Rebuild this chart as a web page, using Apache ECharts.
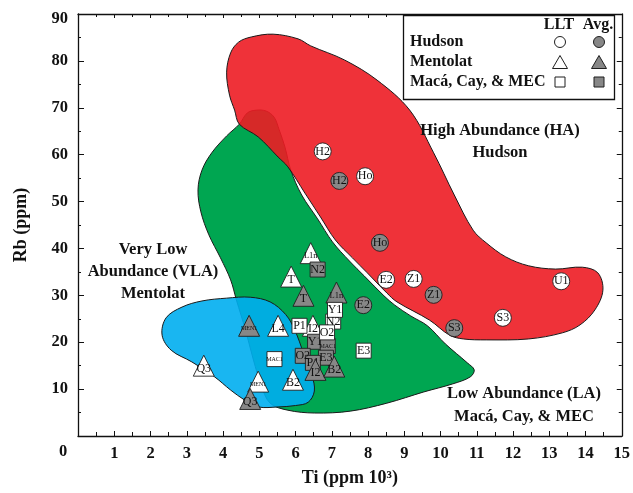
<!DOCTYPE html>
<html>
<head>
<meta charset="utf-8">
<script src="https://cdn.jsdelivr.net/npm/echarts@6.0.0/dist/echarts.min.js"></script>
<style>
  html, body { margin: 0; padding: 0; background: #fff; }
  #chart { width: 633px; height: 493px; }
</style>
</head>
<body>
<div id="chart"></div>
<script>
// Each row: [Ti (ppm x 10^3), Rb (ppm), sample code]
const hudsonLLT = [
  [6.75, 60.7, 'H2'], [7.92, 55.4, 'Ho'], [8.50, 33.3, 'E2'],
  [9.26, 33.5, 'Z1'], [11.72, 25.2, 'S3'], [13.33, 33.0, 'U1']
];
const hudsonAvg = [
  [7.21, 54.4, 'H2'], [8.33, 41.2, 'Ho'], [7.87, 27.9, 'E2'],
  [9.81, 30.1, 'Z1'], [10.38, 23.0, 'S3']
];
const mentolatLLT = [
  [6.42, 39.0, 'L1n'], [5.88, 34.0, 'T'], [6.48, 23.5, 'I2'], [5.52, 23.5, 'L4'],
  [3.47, 15.0, 'Q3'], [4.97, 11.6, 'MEN1'], [5.93, 12.0, 'B2']
];
const mentolatAvg = [
  [6.22, 29.9, 'T'], [7.13, 30.6, 'L1n'], [4.72, 23.5, 'MEN1'],
  [4.75, 7.9, 'Q3'], [6.55, 14.1, 'I2'], [7.07, 14.8, 'B2']
];
const macaLLT = [
  [7.04, 24.4, 'N2'], [7.09, 26.9, 'Y1'], [6.11, 23.5, 'P1'],
  [6.87, 22.1, 'O2'], [7.88, 18.2, 'E3'], [5.42, 16.4, 'MAC1']
];
const macaAvg = [
  [6.61, 35.5, 'N2'], [6.54, 20.1, 'Y1'], [6.89, 19.2, 'MAC1'],
  [6.20, 17.1, 'O2'], [6.84, 16.7, 'E3'], [6.48, 15.6, 'P1']
];

// Field outlines in data units: [Ti, Rb]
const fieldHA = [
  [4.78, 85.1], [5.38, 85.7], [6.07, 84.7], [6.42, 83.2], [7.35, 80.2], [8.25, 75.9],
  [9.15, 69.5], [9.81, 60.4], [10.38, 51.4], [10.90, 43.9], [11.26, 41.2], [11.80, 38.2],
  [12.43, 36.3], [13.17, 35.6], [13.91, 36.0], [14.34, 34.8], [14.48, 31.1], [14.26, 26.9],
  [13.85, 23.7], [13.36, 22.0], [12.43, 20.7], [11.26, 20.5], [10.63, 20.7], [10.25, 21.5],
  [9.70, 24.7], [8.80, 28.6], [8.52, 30.5], [7.98, 34.8], [7.57, 38.0], [7.10, 41.8],
  [6.69, 46.7], [6.26, 51.8], [5.79, 57.4], [5.52, 59.5], [4.97, 63.8], [4.45, 66.5],
  [4.32, 69.5], [4.18, 72.7], [4.10, 77.6], [4.21, 81.7], [4.43, 84.0]
];
const fieldLA = [
  [4.92, 69.5], [4.67, 68.9], [4.45, 66.5], [4.10, 64.0], [3.69, 60.4], [3.42, 56.7],
  [3.31, 52.5], [3.39, 47.8], [3.61, 42.9], [3.93, 38.0], [4.21, 33.3], [4.37, 29.0],
  [4.62, 22.6], [4.84, 16.2], [5.05, 10.9], [5.30, 7.0], [5.79, 5.5], [6.53, 4.9],
  [7.51, 5.3], [8.52, 7.0], [9.54, 9.4], [10.33, 11.1], [10.82, 12.6], [10.93, 14.1],
  [10.74, 15.6], [10.14, 19.6], [9.64, 23.5], [9.18, 25.6], [8.74, 27.9], [8.44, 29.9],
  [7.90, 34.1], [7.49, 37.3], [7.02, 41.4], [6.61, 46.3], [6.17, 51.4], [5.87, 56.7],
  [5.71, 61.6], [5.55, 65.3], [5.41, 68.0], [5.19, 69.3]
];
const fieldVLA = [
  [2.87, 27.5], [3.42, 28.8], [4.10, 29.4], [4.75, 29.6], [5.30, 28.6], [5.73, 25.9],
  [5.98, 22.6], [6.23, 17.5], [6.45, 13.0], [6.52, 9.6], [6.35, 7.2], [6.00, 6.5],
  [5.52, 6.2], [4.97, 6.2], [4.59, 7.7], [4.21, 9.8], [3.77, 12.6], [3.14, 15.8],
  [2.57, 18.3], [2.32, 21.5], [2.43, 25.2]
];

const SERIF = '"Liberation Serif", "Times New Roman", serif';
const GREY = '#878787';
const EDGE = '#1f1f1f';

function fieldSeries(name, outline, fill, z) {
  return {
    name: name,
    type: 'custom',
    coordinateSystem: 'cartesian2d',
    silent: true,
    z: z,
    clip: false,
    data: [outline[0]],
    renderItem: function (params, api) {
      const pts = outline.map(function (p) { return api.coord(p); });
      return {
        type: 'polygon',
        shape: { points: pts, smooth: 0.35 },
        style: { fill: fill, stroke: '#1a1a1a', lineWidth: 1 }
      };
    }
  };
}

// code labels shrink with their length so they fit inside the symbol
function codeSize(code) {
  if (code.length > 3) return 6;
  if (code.length > 2) return 8.5;
  return 12;
}

function pointSeries(name, rows, symbol, size, fill, z, dy) {
  return {
    name: name,
    type: 'scatter',
    symbol: symbol,
    symbolSize: size,
    z: z,
    data: rows.map(function (r) {
      return {
        value: [r[0], r[1]],
        name: r[2],
        label: { fontSize: codeSize(r[2]) }
      };
    }),
    itemStyle: { color: fill, borderColor: EDGE, borderWidth: 0.9, opacity: 1 },
    label: {
      show: true, position: 'inside', formatter: '{b}', color: '#111',
      fontFamily: SERIF, offset: [0, dy]
    },
    emphasis: { disabled: true }
  };
}

const axisText = { fontFamily: SERIF, fontWeight: 'bold', fontSize: 16.5, color: '#111' };
const frameLine = { show: true, onZero: false, lineStyle: { color: '#111', width: 1.3 } };

const legendFont = 'bold 16px ' + SERIF;
const annoFont = 'bold 16.5px ' + SERIF;

function txt(x, y, s, font, align) {
  return { type: 'text', x: x, y: y, z: 50,
    style: { text: s, font: font, fill: '#111', align: align || 'center', verticalAlign: 'middle' } };
}

const chart = echarts.init(document.getElementById('chart'), null, { renderer: 'canvas' });
chart.setOption({
  animation: false,
  backgroundColor: '#fff',
  grid: { left: 78, right: 6, top: 14, bottom: 57 },
  xAxis: [{
    type: 'value', min: 0, max: 15, interval: 1,
    axisLine: frameLine,
    axisTick: { inside: true, length: 5, lineStyle: { color: '#111' } },
    minorTick: { show: true, splitNumber: 2, length: 4, lineStyle: { color: '#111' } },
    splitLine: { show: false },
    axisLabel: Object.assign({ showMinLabel: false, margin: 9 }, axisText),
    name: 'Ti (ppm 10³)', nameLocation: 'middle', nameGap: 33,
    nameTextStyle: { fontFamily: SERIF, fontWeight: 'bold', fontSize: 18, color: '#111' }
  }, {
    type: 'value', min: 0, max: 15, interval: 1, position: 'top',
    axisLine: frameLine,
    axisTick: { inside: true, length: 4, lineStyle: { color: '#111' } },
    minorTick: { show: true, splitNumber: 2, length: 3, lineStyle: { color: '#111' } },
    splitLine: { show: false }, axisLabel: { show: false }
  }],
  yAxis: [{
    type: 'value', min: 0, max: 90, interval: 10,
    axisLine: frameLine,
    axisTick: { inside: true, length: 6, lineStyle: { color: '#111' } },
    minorTick: { show: true, splitNumber: 2, length: 3, lineStyle: { color: '#111' } },
    splitLine: { show: false },
    axisLabel: Object.assign({
      showMinLabel: false, margin: 10,
      formatter: function (v) { return v === 90 ? '{top|90}' : String(v); },
      rich: { top: { fontFamily: SERIF, fontWeight: 'bold', fontSize: 16.5, color: '#111', padding: [10, 0, 0, 0] } }
    }, axisText),
    name: 'Rb (ppm)', nameLocation: 'middle', nameGap: 48, nameRotate: 90,
    nameTextStyle: { fontFamily: SERIF, fontWeight: 'bold', fontSize: 18, color: '#111' }
  }, {
    type: 'value', min: 0, max: 90, interval: 10, position: 'right',
    axisLine: frameLine,
    axisTick: { inside: true, length: 5, lineStyle: { color: '#111' } },
    minorTick: { show: true, splitNumber: 2, length: 3, lineStyle: { color: '#111' } },
    splitLine: { show: false }, axisLabel: { show: false }
  }],
  graphic: { elements: [
    txt(63, 452, '0', 'bold 16.5px ' + SERIF),
    // field names
    txt(500, 131, 'High Abundance (HA)', annoFont),
    txt(500, 153, 'Hudson', annoFont),
    txt(153, 250, 'Very Low', annoFont),
    txt(153, 272, 'Abundance (VLA)', annoFont),
    txt(153, 294, 'Mentolat', annoFont),
    txt(524, 394, 'Low Abundance (LA)', annoFont),
    txt(524, 417, 'Macá, Cay, & MEC', annoFont),
    // key box
    { type: 'rect', z: 40, shape: { x: 403.5, y: 15.5, width: 211, height: 84 },
      style: { fill: '#fff', stroke: '#111', lineWidth: 1.3 } },
    txt(559, 25, 'LLT', legendFont),
    txt(598, 25, 'Avg.', legendFont),
    txt(410, 42, 'Hudson', legendFont, 'left'),
    txt(410, 62, 'Mentolat', legendFont, 'left'),
    txt(410, 82, 'Macá, Cay, & MEC', legendFont, 'left'),
    { type: 'circle', z: 50, shape: { cx: 560, cy: 42, r: 5.5 }, style: { fill: '#fff', stroke: EDGE, lineWidth: 1 } },
    { type: 'circle', z: 50, shape: { cx: 599, cy: 42, r: 5.5 }, style: { fill: GREY, stroke: EDGE, lineWidth: 1 } },
    { type: 'polygon', z: 50, shape: { points: [[560, 55.5], [552.5, 68.5], [567.5, 68.5]] }, style: { fill: '#fff', stroke: EDGE, lineWidth: 1 } },
    { type: 'polygon', z: 50, shape: { points: [[599, 55.5], [591.5, 68.5], [606.5, 68.5]] }, style: { fill: GREY, stroke: EDGE, lineWidth: 1 } },
    { type: 'rect', z: 50, shape: { x: 555, y: 77, width: 10, height: 10 }, style: { fill: '#fff', stroke: EDGE, lineWidth: 1 } },
    { type: 'rect', z: 50, shape: { x: 594, y: 77, width: 10, height: 10 }, style: { fill: GREY, stroke: EDGE, lineWidth: 1 } }
  ] },
  series: [
    fieldSeries('LA', fieldLA, '#00a651', 1),
    fieldSeries('VLA', fieldVLA, 'rgba(0,174,239,0.9)', 1),
    fieldSeries('HA', fieldHA, 'rgba(237,28,36,0.9)', 1),
    pointSeries('Hudson LLT', hudsonLLT, 'circle', 17, '#fff', 5, 0),
    pointSeries('Hudson Avg.', hudsonAvg, 'circle', 17, GREY, 5, 0),
    pointSeries('Mentolat LLT', mentolatLLT, 'triangle', 21, '#fff', 6, 3),
    pointSeries('Macá, Cay, & MEC Avg.', macaAvg, 'rect', 15, GREY, 7, 0),
    pointSeries('Mentolat Avg.', mentolatAvg, 'triangle', 21, GREY, 8, 3),
    pointSeries('Macá, Cay, & MEC LLT', macaLLT, 'rect', 15, '#fff', 9, 0)
  ]
});
</script>
</body>
</html>
